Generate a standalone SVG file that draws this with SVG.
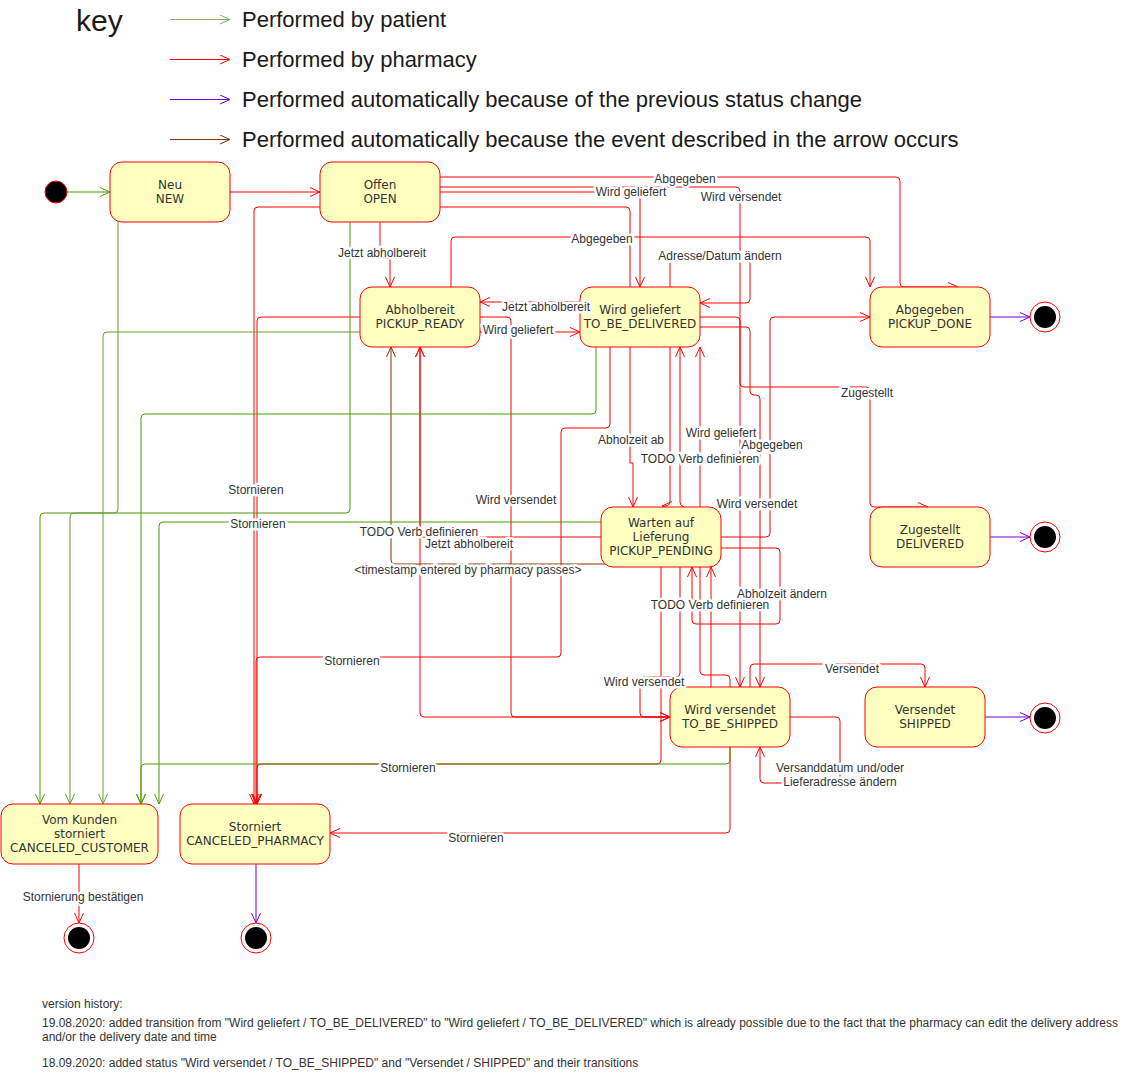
<svg xmlns="http://www.w3.org/2000/svg" width="1131" height="1074" viewBox="0 0 1131 1074">
<style>
.e{fill:none;stroke-width:1}
.r{stroke:#FF0000}
.g{stroke:#4D9900}
.gl{stroke:#82B366}
.gm{stroke:#5FA22F}
.p{stroke:#7000D0}
.b{stroke:#803300}
.node{fill:#FFFFC0;stroke:#FF0000;stroke-width:1}
.nt{font-family:"DejaVu Sans",Verdana,sans-serif;font-size:12px;fill:#333;text-anchor:middle;dominant-baseline:central}
.lbl{font-family:"Liberation Sans",Arial,sans-serif;font-size:12px;fill:#333;text-anchor:middle;dominant-baseline:central;stroke:#fff;stroke-width:5;stroke-linejoin:round;paint-order:stroke}
.key{font-family:"Liberation Sans",Arial,sans-serif;font-size:22px;fill:#1a1a1a;dominant-baseline:central}
.hist{font-family:"Liberation Sans",Arial,sans-serif;font-size:12px;fill:#333}
.fo{fill:#fff;stroke:#FF0000;stroke-width:1}
.fi{fill:#000}
</style>
<defs>
<marker id="mr" viewBox="0 0 10 10" refX="10" refY="5" markerWidth="10" markerHeight="10" markerUnits="userSpaceOnUse" orient="auto"><path d="M0,0.5 L10,5 L0,9.5" fill="none" stroke="#FF0000"/></marker>
<marker id="mg" viewBox="0 0 10 10" refX="10" refY="5" markerWidth="10" markerHeight="10" markerUnits="userSpaceOnUse" orient="auto"><path d="M0,0.5 L10,5 L0,9.5" fill="none" stroke="#4D9900"/></marker>
<marker id="mgl" viewBox="0 0 10 10" refX="10" refY="5" markerWidth="10" markerHeight="10" markerUnits="userSpaceOnUse" orient="auto"><path d="M0,0.5 L10,5 L0,9.5" fill="none" stroke="#82B366"/></marker>
<marker id="mgm" viewBox="0 0 10 10" refX="10" refY="5" markerWidth="10" markerHeight="10" markerUnits="userSpaceOnUse" orient="auto"><path d="M0,0.5 L10,5 L0,9.5" fill="none" stroke="#5FA22F"/></marker>
<marker id="mp" viewBox="0 0 10 10" refX="10" refY="5" markerWidth="10" markerHeight="10" markerUnits="userSpaceOnUse" orient="auto"><path d="M0,0.5 L10,5 L0,9.5" fill="none" stroke="#7000D0"/></marker>
<marker id="mb" viewBox="0 0 10 10" refX="10" refY="5" markerWidth="10" markerHeight="10" markerUnits="userSpaceOnUse" orient="auto"><path d="M0,0.5 L10,5 L0,9.5" fill="none" stroke="#803300"/></marker>
</defs>
<rect width="1131" height="1074" fill="#fff"/>

<g id="key">
<text x="76" y="31" font-family="Liberation Sans, Arial, sans-serif" font-size="30" fill="#1a1a1a">key</text>
<path class="e gl" d="M170,19.5 H230" marker-end="url(#mgl)"/>
<path class="e r" d="M170,59.5 H230" marker-end="url(#mr)"/>
<path class="e p" d="M170,99.5 H230" marker-end="url(#mp)"/>
<path class="e b" d="M170,139.5 H230" marker-end="url(#mb)"/>
<text class="key" x="242" y="19.5">Performed by patient</text>
<text class="key" x="242" y="59.5">Performed by pharmacy</text>
<text class="key" x="242" y="99.5">Performed automatically because of the previous status change</text>
<text class="key" x="242" y="139.5">Performed automatically because the event described in the arrow occurs</text>
</g>

<g id="connectors">
<path class="e r" d="M230,192 H320" marker-end="url(#mr)"/>
<path class="e r" d="M320,207 H258 Q254,207 254,211 V804" marker-end="url(#mr)"/>
<path class="e r" d="M380,222 V254 H390 V287" marker-end="url(#mr)"/>
<path class="e r" d="M440,177 H896 Q900,177 900,181 V283 Q900,287 904,287 H958" marker-end="url(#mr)"/>
<path class="e r" d="M440,187 H736 Q740,187 740,191 V687" marker-end="url(#mr)"/>
<path class="e r" d="M440,192 H636 Q640,192 640,196 V287" marker-end="url(#mr)"/>
<path class="e r" d="M440,207 H626 Q630,207 630,211 V463 H633 V507" marker-end="url(#mr)"/>
<path class="e r" d="M360,317 H261 Q257,317 257,321 V804" marker-end="url(#mr)"/>
<path class="e r" d="M451,287 V241 Q451,237 455,237 H866 Q870,237 870,241 V287" marker-end="url(#mr)"/>
<path class="e r" d="M480,332 H580" marker-end="url(#mr)"/>
<path class="e r" d="M580,302 H480" marker-end="url(#mr)"/>
<path class="e r" d="M480,317 H507 Q511,317 511,321 V713 Q511,717 515,717 H670" marker-end="url(#mr)"/>
<path class="e r" d="M670,287 V256 H746 Q750,256 750,260 V299 Q750,303 746,303 H700" marker-end="url(#mr)"/>
<path class="e r" d="M610,347 V424 Q610,428 606,428 H565 Q561,428 561,432 V653 Q561,657 557,657 H260 Q256,657 256,661 V804" marker-end="url(#mr)"/>
<path class="e r" d="M670,347 V501 Q670,506 665,506 L662,506" marker-end="url(#mr)"/>
<path class="e r" d="M684,507 Q680,506 680,502 V347" marker-end="url(#mr)"/>
<path class="e r" d="M730,687 V679 Q730,675 726,675 H704 Q700,675 700,671 V347" marker-end="url(#mr)"/>
<path class="e r" d="M700,327 H746 Q750,327 750,331 V391 Q750,395 754,395 H756 Q760,395 760,399 V687" marker-end="url(#mr)"/>
<path class="e r" d="M700,317 H736 Q740,317 740,321 V383 Q740,387 744,387 H866 Q870,387 870,391 V503 Q870,507 874,507 H928" marker-end="url(#mr)"/>
<path class="e r" d="M721,537 H766 Q770,537 770,533 V321 Q770,317 774,317 H870" marker-end="url(#mr)"/>
<path class="e r" d="M721,548 H776 Q780,548 780,552 V620 Q780,624 776,624 H696 Q692,624 692,620 V567" marker-end="url(#mr)"/>
<path class="e r" d="M601,537 H420 V347" marker-end="url(#mr)"/>
<path class="e r" d="M670,717 H424 Q420,717 420,713 V347" marker-end="url(#mr)"/>
<path class="e r" d="M661,567 V760 Q661,764 657,764 H261 Q257,764 257,768 V804" marker-end="url(#mr)"/>
<path class="e r" d="M680,567 V673 Q680,677 676,677 H644 Q640,677 640,681 V713 Q640,717 644,717 H670" marker-end="url(#mr)"/>
<path class="e r" d="M711,687 V567" marker-end="url(#mr)"/>
<path class="e r" d="M750,687 V668 Q750,664 754,664 H921 Q925,664 925,668 V687" marker-end="url(#mr)"/>
<path class="e r" d="M790,717 H836 Q840,717 840,721 V779 Q840,783 836,783 H764 Q760,783 760,779 V747" marker-end="url(#mr)"/>
<path class="e r" d="M730,747 V829 Q730,833 726,833 H330" marker-end="url(#mr)"/>
<path class="e r" d="M79,864 V923" marker-end="url(#mr)"/>
<path class="e b" d="M601,552 H605 Q609,552 609,556 V560 Q609,564 605,564 H395 Q391,564 391,560 V347" marker-end="url(#mb)"/>
<path class="e g" d="M67,192 H110" marker-end="url(#mg)"/>
<path class="e g" d="M350,222 V509 Q350,513 346,513 H44 Q40,513 40,517 V804" marker-end="url(#mg)"/>
<path class="e gm" d="M118,222 V509 Q118,513 114,513 H74 Q70,513 70,517 V804" marker-end="url(#mgm)"/>
<path class="e gm" d="M360,332 H107 Q103,332 103,336 V804" marker-end="url(#mgm)"/>
<path class="e g" d="M596,347 V410 Q596,414 592,414 H145 Q141,414 141,418 V804" marker-end="url(#mg)"/>
<path class="e g" d="M601,522 H163 Q159,522 159,526 V804" marker-end="url(#mg)"/>
<path class="e g" d="M730,747 V760 Q730,764 726,764 H145 Q141,764 141,768 V804" marker-end="url(#mg)"/>
<path class="e p" d="M990,317 H1030" marker-end="url(#mp)"/>
<path class="e p" d="M990,537 H1030" marker-end="url(#mp)"/>
<path class="e p" d="M985,717 H1030" marker-end="url(#mp)"/>
<path class="e p" d="M256,864 V923" marker-end="url(#mp)"/>
</g>

<g id="start"><circle cx="56" cy="192" r="11" fill="#000" stroke="#FF0000"/></g>
<g id="neu"><rect class="node" x="110" y="162" width="120" height="60" rx="12"/><text class="nt" x="170" y="185">Neu</text><text class="nt" x="170" y="199">NEW</text></g>
<g id="offen"><rect class="node" x="320" y="162" width="120" height="60" rx="12"/><text class="nt" x="380" y="185">Offen</text><text class="nt" x="380" y="199">OPEN</text></g>
<g id="pickup-ready"><rect class="node" x="360" y="287" width="120" height="60" rx="12"/><text class="nt" x="420" y="310">Abholbereit</text><text class="nt" x="420" y="324">PICKUP_READY</text></g>
<g id="to-be-delivered"><rect class="node" x="580" y="287" width="120" height="60" rx="12"/><text class="nt" x="640" y="310">Wird geliefert</text><text class="nt" x="640" y="324">TO_BE_DELIVERED</text></g>
<g id="pickup-done"><rect class="node" x="870" y="287" width="120" height="60" rx="12"/><text class="nt" x="930" y="310">Abgegeben</text><text class="nt" x="930" y="324">PICKUP_DONE</text></g>
<g id="pickup-pending"><rect class="node" x="601" y="507" width="120" height="60" rx="12"/><text class="nt" x="661" y="523">Warten auf</text><text class="nt" x="661" y="537">Lieferung</text><text class="nt" x="661" y="551">PICKUP_PENDING</text></g>
<g id="delivered"><rect class="node" x="870" y="507" width="120" height="60" rx="12"/><text class="nt" x="930" y="530">Zugestellt</text><text class="nt" x="930" y="544">DELIVERED</text></g>
<g id="to-be-shipped"><rect class="node" x="670" y="687" width="120" height="60" rx="12"/><text class="nt" x="730" y="710">Wird versendet</text><text class="nt" x="730" y="724">TO_BE_SHIPPED</text></g>
<g id="shipped"><rect class="node" x="865" y="687" width="120" height="60" rx="12"/><text class="nt" x="925" y="710">Versendet</text><text class="nt" x="925" y="724">SHIPPED</text></g>
<g id="canceled-customer"><rect class="node" x="1" y="804" width="157" height="60" rx="12"/><text class="nt" x="79.5" y="820">Vom Kunden</text><text class="nt" x="79.5" y="834">storniert</text><text class="nt" x="79.5" y="848">CANCELED_CUSTOMER</text></g>
<g id="canceled-pharmacy"><rect class="node" x="180" y="804" width="150" height="60" rx="12"/><text class="nt" x="255" y="827">Storniert</text><text class="nt" x="255" y="841">CANCELED_PHARMACY</text></g>
<g id="end-done"><circle class="fo" cx="1045" cy="317" r="15"/><circle class="fi" cx="1045" cy="317" r="11"/></g>
<g id="end-delivered"><circle class="fo" cx="1045" cy="537" r="15"/><circle class="fi" cx="1045" cy="537" r="11"/></g>
<g id="end-shipped"><circle class="fo" cx="1045" cy="718" r="15"/><circle class="fi" cx="1045" cy="718" r="11"/></g>
<g id="end-customer"><circle class="fo" cx="79" cy="938" r="15"/><circle class="fi" cx="79" cy="938" r="11"/></g>
<g id="end-pharmacy"><circle class="fo" cx="256" cy="938" r="15"/><circle class="fi" cx="256" cy="938" r="11"/></g>

<g id="connector-labels">
<text class="lbl" x="685" y="179">Abgegeben</text>
<text class="lbl" x="631" y="192">Wird geliefert</text>
<text class="lbl" x="741" y="197">Wird versendet</text>
<text class="lbl" x="382" y="253">Jetzt abholbereit</text>
<text class="lbl" x="602" y="239">Abgegeben</text>
<text class="lbl" x="720" y="256">Adresse/Datum ändern</text>
<text class="lbl" x="546" y="307">Jetzt abholbereit</text>
<text class="lbl" x="518" y="330">Wird geliefert</text>
<text class="lbl" x="867" y="393">Zugestellt</text>
<text class="lbl" x="631" y="440">Abholzeit ab</text>
<text class="lbl" x="721" y="433">Wird geliefert</text>
<text class="lbl" x="772" y="445">Abgegeben</text>
<text class="lbl" x="700" y="459">TODO Verb definieren</text>
<text class="lbl" x="256" y="490">Stornieren</text>
<text class="lbl" x="516" y="500">Wird versendet</text>
<text class="lbl" x="757" y="504">Wird versendet</text>
<text class="lbl" x="258" y="524">Stornieren</text>
<text class="lbl" x="469" y="544">Jetzt abholbereit</text>
<text class="lbl" x="419" y="532">TODO Verb definieren</text>
<text class="lbl" x="468" y="570">&lt;timestamp entered by pharmacy passes&gt;</text>
<text class="lbl" x="782" y="594">Abholzeit ändern</text>
<text class="lbl" x="710" y="605">TODO Verb definieren</text>
<text class="lbl" x="352" y="661">Stornieren</text>
<text class="lbl" x="852" y="669">Versendet</text>
<text class="lbl" x="644" y="682">Wird versendet</text>
<text class="lbl" x="408" y="768">Stornieren</text>
<text class="lbl" x="840" y="768">Versanddatum und/oder</text>
<text class="lbl" x="840" y="782">Lieferadresse ändern</text>
<text class="lbl" x="476" y="838">Stornieren</text>
<text class="lbl" x="83" y="897">Stornierung bestätigen</text>
</g>

<g id="version-history">
<text class="hist" x="42" y="1008">version history:</text>
<text class="hist" x="42" y="1027">19.08.2020: added transition from "Wird geliefert / TO_BE_DELIVERED" to "Wird geliefert / TO_BE_DELIVERED" which is already possible due to the fact that the pharmacy can edit the delivery address</text>
<text class="hist" x="42" y="1041">and/or the delivery date and time</text>
<text class="hist" x="42" y="1067">18.09.2020: added status "Wird versendet / TO_BE_SHIPPED" and "Versendet / SHIPPED" and their transitions</text>
</g>
</svg>
